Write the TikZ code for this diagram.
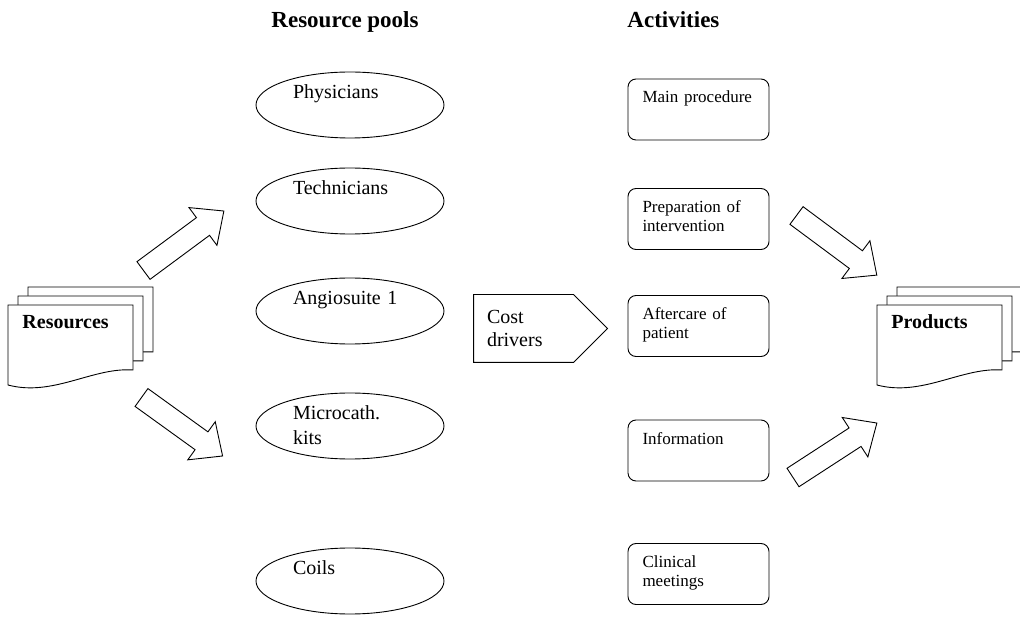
\documentclass[tikz,border=0pt]{standalone}
\usepackage{fontspec}
\setmainfont{Liberation Serif}
\usetikzlibrary{shapes.geometric, positioning}

\tikzset{
    page/.pic={\draw[fill=white] (0,0) -- (125,0) -- (125,65)
        .. controls (85,62) and (45,92) .. (0,80) -- cycle;},
    docstack/.pic={\pic at (20,-18) {page}; \pic at (10,-9) {page}; \pic at (0,0) {page};},
    fatarrow/.pic={\draw[fill=white] (0,-11) -- (74,-11) -- (74,-23.5) -- (100,0)
        -- (74,23.5) -- (74,11) -- (0,11) -- cycle;}
}

\begin{document}
\begin{tikzpicture}[x=1pt, y=-1pt, on grid, line width=0.9pt,
    pool/.style={ellipse, draw, minimum width=188pt, minimum height=66pt, inner sep=0pt,
        text width=114pt, align=left, text height=14pt, text depth=27pt,
        font=\fontsize{20}{25}\selectfont},
    activity/.style={draw, rounded corners=8pt, minimum width=141pt, minimum height=61pt,
        inner xsep=0pt, inner ysep=9pt, text width=112pt, align=left,
        text height=15pt, text depth=28pt, font=\fontsize{17}{19}\selectfont},
    costbox/.style={minimum width=133pt, minimum height=67pt, inner sep=0pt,
        text width=107pt, align=left, font=\fontsize{20}{23}\selectfont},
    heading/.style={anchor=base west, inner sep=0pt, font=\fontsize{23}{26}\selectfont\bfseries},
    doclabel/.style={anchor=base west, inner sep=0pt, font=\fontsize{20}{24}\selectfont\bfseries}]
    \useasboundingbox (0,0) rectangle (1020,617);

    % headings
    \node[heading] (pools_h) at (271,28) {Resource pools};
    \node[heading] (act_h) at (627,28) {Activities};

    % resource pools
    \node[pool] (phys) at (350,105) {Physicians};
    \node[pool] (tech) [below=96pt of phys] {Technicians};
    \node[pool] (angio) [below=110pt of tech] {Angiosuite 1};
    \node[pool] (micro) [below=115pt of angio] {Microcath.\\kits};
    \node[pool] (coils) [below=155pt of micro] {Coils};

    % activities
    \node[activity] (main) at (698.5,109.5) {Main procedure};
    \node[activity] (prep) [below=109.5pt of main] {Preparation of\\intervention};
    \node[activity] (after) [below=107pt of prep] {Aftercare of\\patient};
    \node[activity] (info) [below=124.5pt of after] {Information};
    \node[activity] (clin) [below=123.5pt of info] {Clinical\\meetings};

    % cost drivers
    \node[costbox] (cost) at (540.5,328.5) {Cost\\drivers};
    \draw (cost.north west) -- ([xshift=-34pt]cost.north east) -- (cost.east)
        -- ([xshift=-34pt]cost.south east) -- (cost.south west) -- cycle;

    % resources and products
    \pic at (8,305) {docstack};
    \node[doclabel] (res) at (22,329) {Resources};
    \pic at (877,305) {docstack};
    \node[doclabel] (prod) at (891,329) {Products};

    % block arrows
    \pic[rotate=36.5] at (143.5,270.5) {fatarrow};
    \pic[rotate=-35.8] at (141.5,397.5) {fatarrow};
    \pic[rotate=-36.6] at (796.5,215.5) {fatarrow};
    \pic[rotate=33] at (793,477.5) {fatarrow};
\end{tikzpicture}
\end{document}
